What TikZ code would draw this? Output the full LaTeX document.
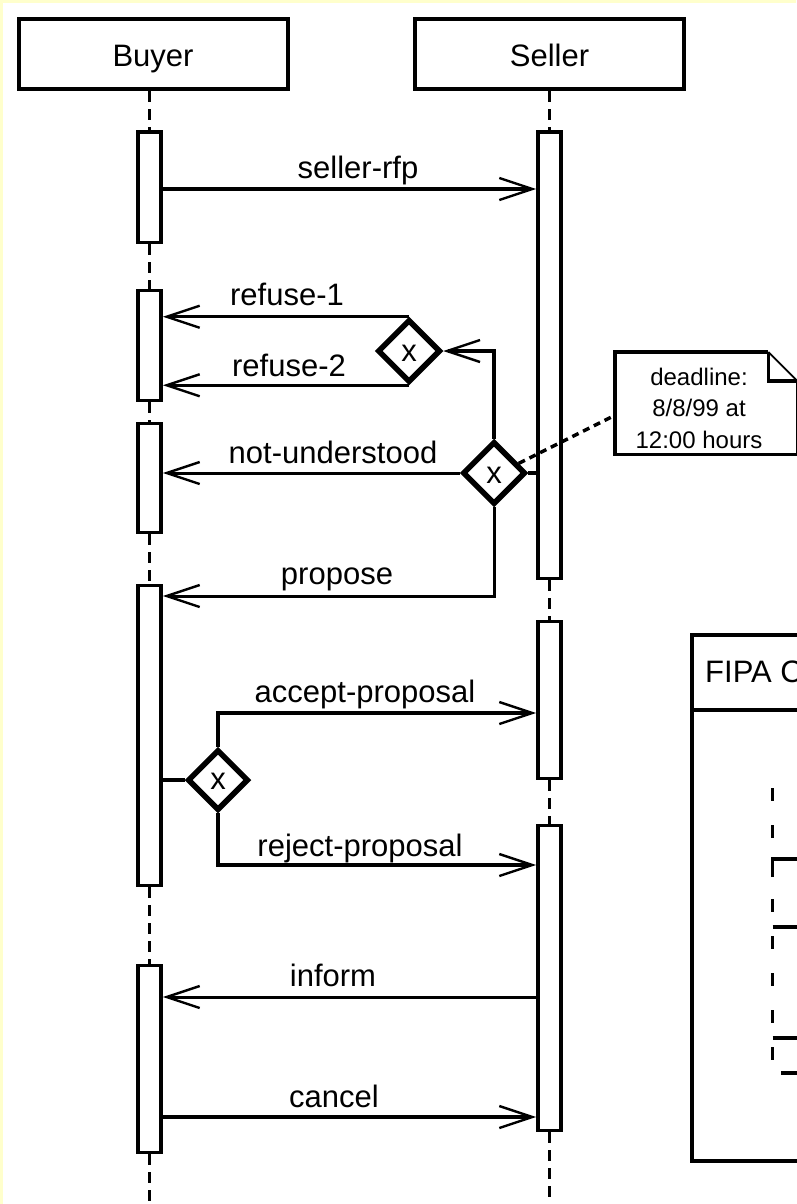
\documentclass[tikz,border=0pt]{standalone}
\usepackage{fontspec}
\setmainfont{Liberation Sans}
\usetikzlibrary{arrows.meta,shapes.geometric,calc}
\definecolor{bgyellow}{RGB}{255,255,204}
\begin{document}
\begin{tikzpicture}[x=1pt,y=-1pt,
  every node/.style={font=\fontsize{31}{36}\selectfont},
  actor/.style={draw,line width=4pt,fill=white,minimum width=269pt,minimum height=70pt,inner sep=0pt,text height=25pt,text depth=0pt},
  bar/.style={draw,line width=3.8pt,fill=white,minimum width=23pt,inner sep=0pt,anchor=north},
  lifeline/.style={line width=3.8pt,dash pattern=on 11pt off 7pt},
  msg/.style={line width=3.5pt,-{Straight Barb[length=33pt,width=22pt,line width=2.4pt]}},
  thinmsg/.style={msg,line width=3pt},
  plain/.style={line width=3.5pt},
  choice/.style={diamond,draw,line width=5.5pt,fill=white,minimum size=63pt,inner sep=0pt,aspect=1,text depth=0pt,yshift=0pt},
  lbl/.style={anchor=base,inner sep=0pt},
  notetext/.style={font=\fontsize{24}{31.5}\selectfont,align=center,inner sep=0pt},
  frame/.style={line width=3.8pt},
]
% background
\useasboundingbox (0,0) rectangle (796,1204);
\fill[bgyellow] (0,0) rectangle (796,1204);
\fill[white] (3,3) rectangle (800,1210);
\coordinate (bot) at (0,1206);

% actors
\node[actor] (buyer) at (153,54.5) {Buyer};
\node[actor] (seller) at (549.5,54.5) {Seller};

% activation bars (buyer)
\node[bar,minimum height=110pt] (b1) at (149.5,130.5) {};
\node[bar,minimum height=110pt] (b2) at (149.5,288.5) {};
\node[bar,minimum height=109pt] (b3) at (149.5,421.5) {};
\node[bar,minimum height=300pt] (b4) at (149.5,583.5) {};
\node[bar,minimum height=187pt] (b5) at (149.5,963.5) {};
% activation bars (seller)
\node[bar,minimum height=446pt] (s1) at (549.5,130.5) {};
\node[bar,minimum height=157pt] (s2) at (549.5,619.5) {};
\node[bar,minimum height=305pt] (s3) at (549.5,823.5) {};

% lifelines
\draw[lifeline] (buyer.south -| b1.center) -- (b1.north);
\draw[lifeline] (b1.south) -- (b2.north);
\draw[lifeline] (b2.south) -- (b3.north);
\draw[lifeline] (b3.south) -- (b4.north);
\draw[lifeline] (b4.south) -- (b5.north);
\draw[lifeline] (b5.south) -- (bot -| b5.center);
\draw[lifeline] (seller.south) -- (s1.north);
\draw[lifeline] (s1.south) -- (s2.north);
\draw[lifeline] (s2.south) -- (s3.north);
\draw[lifeline] (s3.south) -- (bot -| s3.center);

% choice diamonds
\node[choice] (d1) at (409,351) {\raisebox{-4pt}{x}};
\node[choice] (d2) at (494,473) {\raisebox{-4pt}{x}};
\node[choice,minimum size=61pt] (d3) at (218,780) {\raisebox{-3pt}{x}};

% message levels
\coordinate (yrfp) at (0,189);
\coordinate (yprop) at (0,596);
\coordinate (yacc) at (0,713);
\coordinate (yrej) at (0,865);
\coordinate (yinf) at (0,997);
\coordinate (ycan) at (0,1117);

% messages
\draw[msg,line width=4pt] (b1.east |- yrfp) -- (s1.west |- yrfp);
\draw[thinmsg] (d1.north) -- (b2.east |- d1.north);
\draw[thinmsg] (d1.south) -- (b2.east |- d1.south);
\draw[msg,line width=4.5pt] (d2.north) |- (d1.east);
\draw[plain] (s1.west |- d2.east) -- (d2.east);
\draw[thinmsg] (d2.west) -- (b3.east |- d2.west);
\draw[thinmsg] (d2.south) |- (b4.east |- yprop);
\draw[plain] (b4.east |- d3.west) -- (d3.west);
\draw[msg,line width=4pt] (d3.north) |- (s2.west |- yacc);
\draw[msg,line width=4pt] (d3.south) |- (s3.west |- yrej);
\draw[thinmsg] (s3.west |- yinf) -- (b5.east |- yinf);
\draw[msg,line width=4pt] (b5.east |- ycan) -- (s3.west |- ycan);

% labels
\node[lbl] (lrfp) at (358,178) {seller-rfp};
\node[lbl] (lref1) at (287,305) {refuse-1};
\node[lbl] (lref2) at (289,376) {refuse-2};
\node[lbl] (lnu) at (333,463) {not-understood};
\node[lbl] (lprop) at (337,584) {propose};
\node[lbl] (lacc) at (365,702) {accept-proposal};
\node[lbl] (lrej) at (360,856) {reject-proposal};
\node[lbl] (linf) at (333,986) {inform};
\node[lbl] (lcan) at (334,1107) {cancel};

% note
\node[minimum width=182pt,minimum height=102pt,inner sep=0pt,anchor=north west] (note) at (615,352) {};
\draw[frame,fill=white,line join=miter] ($(note.north east)+(-29,0)$) -- (note.north west) -- (note.south west) -- (note.south east) -- ($(note.north east)+(0,29)$);
\draw[line width=1.8pt] ($(note.north east)+(-29,0)$) -- ($(note.north east)+(0,29)$);
\draw[frame] ($(note.north east)+(-29,0)$) -- ++(0,29) -- ++(29,0);
\node[notetext] (notetxt) at (699,408) {deadline:\\8/8/99 at\\12:00 hours};
\draw[line width=3.5pt,dash pattern=on 7pt off 5pt] ($(d2.east)!0.28!(d2.north)$) -- ($(note.west)+(0,12)$);

% protocol frame (cut off at right)
\node[frame,draw,minimum width=140pt,minimum height=526pt,inner sep=0pt,anchor=north west] (fipa) at (690,633) {};
\coordinate (yhead) at (0,710);
\draw[frame] (fipa.west |- yhead) -- (fipa.east |- yhead);
\node[anchor=base west,inner sep=0pt] (fipatitle) at (705,682) {FIPA C};
\coordinate (il) at (772.5,788);
\coordinate (ilb) at (772.5,1066);
\coordinate (fr) at (800,0);
\draw[line width=3.8pt,dash pattern=on 13pt off 24pt] (il) -- (ilb);
\coordinate (h1) at (772.5,859);
\coordinate (h2) at (772.5,927);
\coordinate (h3) at (772.5,1038);
\coordinate (h4) at (781,1073);
\draw[frame] (772.5,877) -- (h1) -- (fr |- h1);
\draw[frame] (h2) -- (fr |- h2);
\draw[frame] (h3) -- (fr |- h3);
\draw[frame] (h4) -- (fr |- h4);
\end{tikzpicture}
\end{document}
